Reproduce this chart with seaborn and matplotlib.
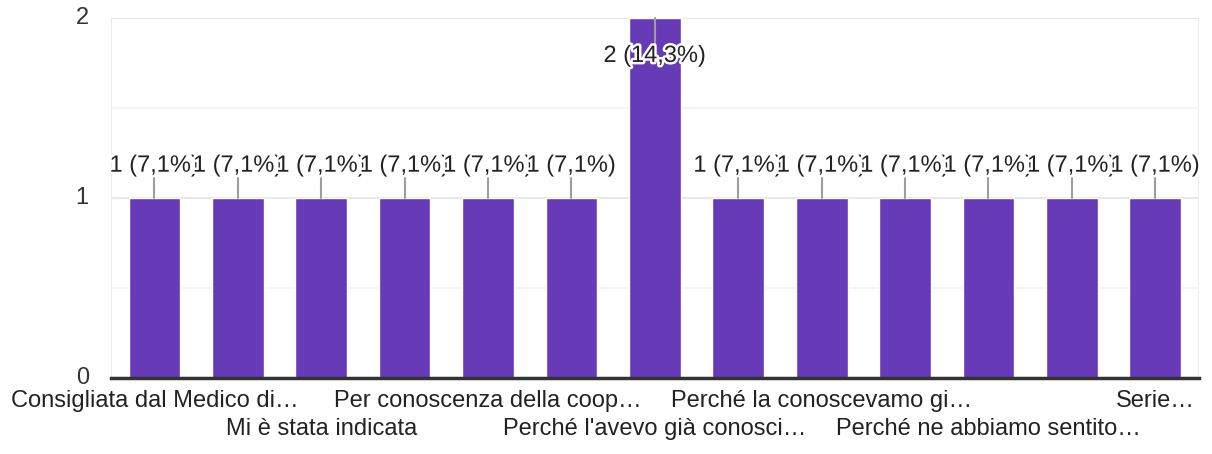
import matplotlib

matplotlib.use("Agg")
import matplotlib.pyplot as plt
import matplotlib.patheffects as pe
import matplotlib.transforms as mtransforms
import numpy as np
import pandas as pd
import seaborn as sns

# answers (odd ones have hidden labels)
tick_labels = [
  "Consigliata dal Medico di…",
  "",
  "Mi è stata indicata",
  "",
  "Per conoscenza della coop…",
  "",
  "Perché l'avevo già conosci…",
  "",
  "Perché la conoscevamo gi…",
  "",
  "Perché ne abbiamo sentito…",
  "",
  "Serie…",
]
label_row = [0, 0, 1, 0, 0, 0, 1, 0, 0, 0, 1, 0, 0]
counts = [1, 1, 1, 1, 1, 1, 2, 1, 1, 1, 1, 1, 1]

BAR_COLOR = "#673ab7"
TEXT_COLOR = "#222222"
FS = 17

sns.set_theme(style="white")
plt.rcParams["font.family"] = ["Liberation Sans", "DejaVu Sans"]

df = pd.DataFrame({"option": np.arange(len(counts)), "count": counts})
total = sum(counts)

fig = plt.figure(figsize=(12.12, 4.54), dpi=100)
ax = fig.add_axes([0.0916, 0.1674, 0.8974, 0.7926])
sns.barplot(
  data=df, x="option", y="count", color=BAR_COLOR, saturation=1,
  width=0.62, ax=ax, zorder=2,
)
ax.set_xlim(-0.52, len(counts) - 0.48)
ax.set_ylim(0, 2)
ax.set_yticks([0, 1, 2])
ax.set_yticks([0.5, 1.5], minor=True)
ax.grid(axis="y", which="major", color="#e8e8e8", linewidth=1.5, zorder=0)
ax.grid(axis="y", which="minor", color="#f4f4f4", linewidth=1.5, zorder=0)
ax.set_axisbelow(True)
for side in ("left", "right", "top"):
  ax.spines[side].set_visible(False)
for xpos in ax.get_xlim():
  ax.axvline(xpos, color="#ececec", linewidth=1.5, zorder=0)
ax.spines["bottom"].set_color("#333333")
ax.spines["bottom"].set_linewidth(2.5)
ax.set_xlabel("")
ax.set_ylabel("")
ax.set_xticks(np.arange(len(counts)))
ax.set_xticklabels([])
ax.tick_params(axis="x", length=0)
ax.tick_params(axis="y", length=0, pad=16, labelsize=FS, labelcolor="#333333")
for lab in ax.get_yticklabels():
  lab.set_verticalalignment("center")

# category labels staggered on two rows, like the original
xform = ax.get_xaxis_transform()
for i, (lab, row) in enumerate(zip(tick_labels, label_row)):
  if not lab:
    continue
  shift = mtransforms.ScaledTranslation(0, -(0.12 + 0.28 * row), fig.dpi_scale_trans)
  ax.text(i, 0, lab, transform=xform + shift, ha="center", va="top",
          fontsize=FS, color=TEXT_COLOR, clip_on=False)

top = max(counts)
halo = [pe.withStroke(linewidth=3.5, foreground="white")]
for i, c in enumerate(counts):
  pct = f"{c / total * 100:.1f}".replace(".", ",")
  if c == top:
    line_end, text_y = c - 0.15, c - 0.21
  else:
    line_end, text_y = c + 0.11, c + 0.18
  ax.plot([i, i], [c, line_end], color="#9e9e9e", linewidth=1.5,
          zorder=3, clip_on=False)
  ax.text(i, text_y, f"{c} ({pct}%)", ha="center", va="center",
          fontsize=FS, color=TEXT_COLOR, path_effects=halo, zorder=4,
          clip_on=True)

fig.savefig("out.png", dpi=100)
